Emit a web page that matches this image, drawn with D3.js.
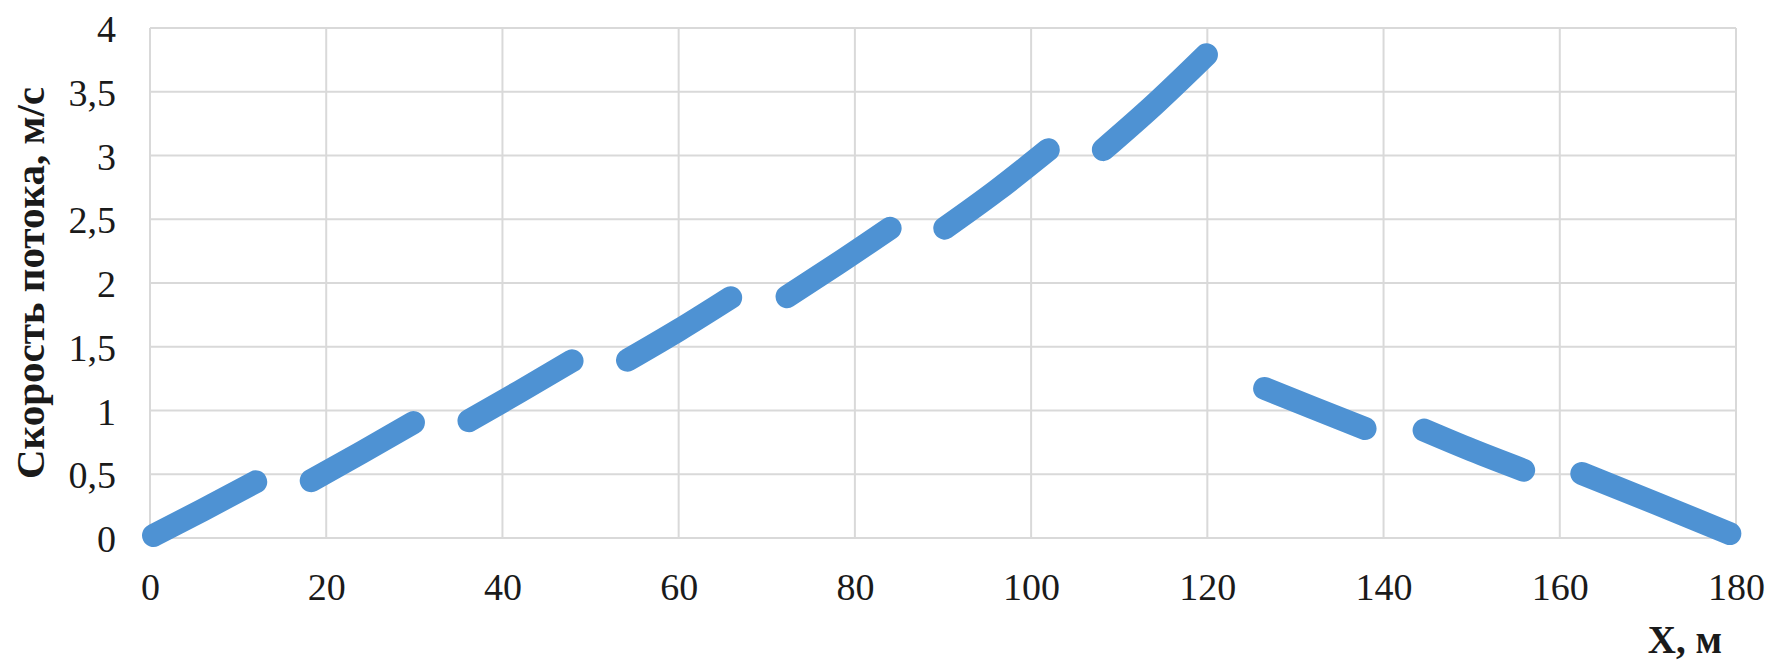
<!DOCTYPE html>
<html>
<head>
<meta charset="utf-8">
<script src="https://cdn.jsdelivr.net/npm/d3@7"></script>
<style>
  html, body { margin: 0; padding: 0; background: #ffffff; }
  svg { display: block; }
</style>
</head>
<body>
<svg id="chart" width="1778" height="671"></svg>
<script>
// ---- data ----
const xValues = [
  0.4, 6, 12.0,
  18.3, 24, 29.9,
  36.2, 42, 47.9,
  54.2, 60, 65.9,
  72.3, 78, 84.0,
  90.2, 96, 101.95,
  108.2, 114, 119.9,
  126.5, 132, 137.9,
  144.6, 150, 155.9,
  162.5, 171, 179.3
];
const speedValues = [
  0.02, 0.22, 0.44,
  0.45, 0.67, 0.905,
  0.92, 1.15, 1.39,
  1.395, 1.63, 1.885,
  1.893, 2.15, 2.43,
  2.43, 2.72, 3.045,
  3.046, 3.40, 3.79,
  1.173, 1.02, 0.859,
  0.846, 0.69, 0.532,
  0.506, 0.27, 0.035
];
const pieceIds = [
  0,0,0, 1,1,1, 2,2,2, 3,3,3, 4,4,4, 5,5,5, 6,6,6, 7,7,7, 8,8,8, 9,9,9
];
const xTicks = [0, 20, 40, 60, 80, 100, 120, 140, 160, 180];
const yTicks = [0, 0.5, 1, 1.5, 2, 2.5, 3, 3.5, 4];
const xTitle = "X, м";
const yTitle = "Скорость потока, м/с";

// ---- layout ----
const margin = { left: 150, right: 42, top: 28, bottom: 133 };
const W = 1778, H = 671;
const svg = d3.select("#chart");

const x = d3.scaleLinear().domain([0, 180]).range([margin.left, W - margin.right]);
const y = d3.scaleLinear().domain([0, 4]).range([H - margin.bottom, margin.top]);

const font = "'Liberation Serif', 'Times New Roman', serif";
const gridColor = "#d9d9d9";

// grid
svg.append("g")
  .selectAll("line.h")
  .data(yTicks)
  .join("line")
  .attr("x1", x(0)).attr("x2", x(180))
  .attr("y1", d => y(d)).attr("y2", d => y(d))
  .attr("stroke", gridColor).attr("stroke-width", 2);

svg.append("g")
  .selectAll("line.v")
  .data(xTicks)
  .join("line")
  .attr("y1", y(0)).attr("y2", y(4))
  .attr("x1", d => x(d)).attr("x2", d => x(d))
  .attr("stroke", gridColor).attr("stroke-width", 2);

// axes (labels only)
const fmt = d => String(d).replace(".", ",");

const xAxis = d3.axisBottom(x).tickValues(xTicks).tickFormat(fmt).tickSize(0).tickPadding(0);
const gx = svg.append("g").attr("transform", `translate(0,${y(0)})`).call(xAxis);
gx.select(".domain").remove();
gx.selectAll("text")
  .attr("font-family", font).attr("font-size", 38).attr("fill", "#1a1a1a")
  .attr("dy", null).attr("y", 62);

const yAxis = d3.axisLeft(y).tickValues(yTicks).tickFormat(fmt).tickSize(0).tickPadding(0);
const gy = svg.append("g").attr("transform", `translate(${x(0)},0)`).call(yAxis);
gy.select(".domain").remove();
gy.selectAll("text")
  .attr("font-family", font).attr("font-size", 38).attr("fill", "#1a1a1a")
  .attr("x", -34).attr("dy", "0.36em");

// titles
svg.append("text")
  .attr("transform", `translate(44,${(y(0) + y(4)) / 2}) rotate(-90)`)
  .attr("text-anchor", "middle")
  .attr("font-family", font).attr("font-weight", "bold").attr("font-size", 41)
  .attr("fill", "#1a1a1a")
  .text(yTitle);

svg.append("text")
  .attr("x", 1722).attr("y", 653)
  .attr("text-anchor", "end")
  .attr("font-family", font).attr("font-weight", "bold").attr("font-size", 39)
  .attr("fill", "#1a1a1a")
  .text(xTitle);

// data line pieces
const points = xValues.map((xv, i) => ({ x: xv, v: speedValues[i], p: pieceIds[i] }));
const pieces = d3.groups(points, d => d.p).map(g => g[1]);

const line = d3.line()
  .x(d => x(d.x))
  .y(d => y(d.v))
  .curve(d3.curveMonotoneX);

svg.append("g")
  .selectAll("path")
  .data(pieces)
  .join("path")
  .attr("d", line)
  .attr("fill", "none")
  .attr("stroke", "#4e92d3")
  .attr("stroke-width", 23)
  .attr("stroke-linecap", "round")
  .attr("stroke-linejoin", "round");
</script>
</body>
</html>
